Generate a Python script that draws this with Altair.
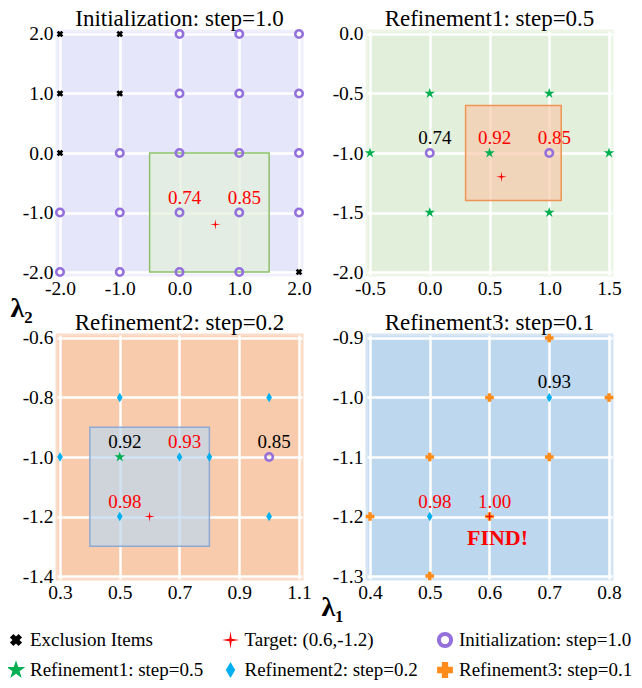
import altair as alt
import pandas as pd

FONT = "Liberation Serif"
RED = "#FF0000"

# ---------------- data ----------------
TARGET_X = [0.6]
TARGET_Y = [-1.2]

# Panel 1: Initialization step=1.0
P1_EXCL_X = [-2, -1, -2, -1, -2, 2]
P1_EXCL_Y = [2, 2, 1, 1, 0, -2]
P1_INIT_X = [0, 1, 2, 0, 1, 2, -1, 0, 1, 2, -2, -1, 0, 1, 2, -2, -1, 0, 1]
P1_INIT_Y = [2, 2, 2, 1, 1, 1, 0, 0, 0, 0, -1, -1, -1, -1, -1, -2, -2, -2, -2]
P1_LAB_X = [0.0, 1.0]
P1_LAB_Y = [-1.0, -1.0]
P1_LAB_TXT = ["0.74", "0.85"]
P1_LAB_SEL = ["selected", "selected"]
P1_BOX = [-0.5, 1.5, -2.0, 0.0]
P1_XT = [-2.0, -1.0, 0.0, 1.0, 2.0]
P1_YT = [-2.0, -1.0, 0.0, 1.0, 2.0]

# Panel 2: Refinement1 step=0.5
P2_INIT_X = [0.0, 1.0]
P2_INIT_Y = [-1.0, -1.0]
P2_R1_X = [0.0, 1.0, -0.5, 0.5, 1.5, 0.0, 1.0]
P2_R1_Y = [-0.5, -0.5, -1.0, -1.0, -1.0, -1.5, -1.5]
P2_LAB_X = [0.0, 0.5, 1.0]
P2_LAB_Y = [-1.0, -1.0, -1.0]
P2_LAB_TXT = ["0.74", "0.92", "0.85"]
P2_LAB_SEL = ["other", "selected", "selected"]
P2_BOX = [0.3, 1.1, -1.4, -0.6]
P2_XT = [-0.5, 0.0, 0.5, 1.0, 1.5]
P2_YT = [-2.0, -1.5, -1.0, -0.5, 0.0]

# Panel 3: Refinement2 step=0.2
P3_INIT_X = [1.0]
P3_INIT_Y = [-1.0]
P3_R1_X = [0.5]
P3_R1_Y = [-1.0]
P3_R2_X = [0.5, 1.0, 0.3, 0.7, 0.8, 0.5, 1.0]
P3_R2_Y = [-0.8, -0.8, -1.0, -1.0, -1.0, -1.2, -1.2]
P3_LAB_X = [0.5, 0.7, 0.5, 1.0]
P3_LAB_Y = [-1.0, -1.0, -1.2, -1.0]
P3_LAB_TXT = ["0.92", "0.93", "0.98", "0.85"]
P3_LAB_SEL = ["other", "selected", "selected", "other"]
P3_BOX = [0.4, 0.8, -1.3, -0.9]
P3_XT = [0.3, 0.5, 0.7, 0.9, 1.1]
P3_YT = [-1.4, -1.2, -1.0, -0.8, -0.6]

# Panel 4: Refinement3 step=0.1
P4_R2_X = [0.7, 0.5]
P4_R2_Y = [-1.0, -1.2]
P4_R3_X = [0.7, 0.6, 0.8, 0.5, 0.7, 0.4, 0.6, 0.5]
P4_R3_Y = [-0.9, -1.0, -1.0, -1.1, -1.1, -1.2, -1.2, -1.3]
P4_LAB_X = [0.7, 0.5, 0.6]
P4_LAB_Y = [-1.0, -1.2, -1.2]
P4_LAB_TXT = ["0.93", "0.98", "1.00"]
P4_LAB_SEL = ["other", "selected", "selected"]
P4_XT = [0.4, 0.5, 0.6, 0.7, 0.8]
P4_YT = [-1.3, -1.2, -1.1, -1.0, -0.9]

LEG_LABELS = ["Exclusion Items", "Target: (0.6,-1.2)", "Initialization: step=1.0",
              "Refinement1: step=0.5", "Refinement2: step=0.2", "Refinement3: step=0.1"]
LEG_KEYS = ["excl", "target", "init", "r1", "r2", "r3"]
LEG_COL = [0, 1, 2, 0, 1, 2]
LEG_ROW = [0, 0, 0, 1, 1, 1]

# ---------------- styles ----------------
STAR = ("M0,-1L0.225,-0.309L0.951,-0.309L0.363,0.118L0.588,0.809L0,0.382"
        "L-0.588,0.809L-0.363,0.118L-0.951,-0.309L-0.225,-0.309Z")
DIAMOND = "M0,-1L0.6,0L0,1L-0.6,0Z"
SPARK = "M0,-1L0.13,-0.13L1,0L0.13,0.13L0,1L-0.13,0.13L-1,0L-0.13,-0.13Z"

MARK = {
    "excl": dict(shape="cross", angle=45, filled=True, color="black", size=45, lsize=150),
    "target": dict(shape=SPARK, filled=True, color=RED, size=110, lsize=300),
    "init": dict(shape="circle", filled=False, color="#9370DB", size=55, lsize=150, sw=2.6, lsw=4),
    "r1": dict(shape=STAR, filled=True, color="#00B050", size=120, lsize=380),
    "r2": dict(shape=DIAMOND, filled=True, color="#00B0F0", size=90, lsize=250),
    "r3": dict(shape="cross", filled=True, color="#FF8C1A", size=75, lsize=250),
}

W, H = 245, 244
LABEL_EXPR = "replace(format(datum.value, '.1f'), '\u2212', '-')"


def pad(lo, hi):
    r = (hi - lo) * 3.0 / 239.0
    return [lo - r, hi + r]


def point_layer(key, xs, ys, X, Y, legend=False):
    m = MARK[key]
    kw = dict(shape=m["shape"], filled=m["filled"], opacity=1,
              size=m["lsize"] if legend else m["size"])
    if m["filled"]:
        kw["fill"] = m["color"]
        kw["strokeWidth"] = 0
    else:
        kw["stroke"] = m["color"]
        kw["strokeWidth"] = m["lsw"] if legend else m["sw"]
    if "angle" in m:
        kw["angle"] = m["angle"]
    df = pd.DataFrame({"x": xs, "y": ys})
    return alt.Chart(df).mark_point(**kw).encode(x=X, y=Y)


def label_layer(xs, ys, txt, sel, X, Y):
    df = pd.DataFrame({"x": xs, "y": ys, "t": txt, "s": sel})
    return alt.Chart(df).mark_text(font=FONT, fontSize=19, dx=5, dy=-15,
                                   baseline="middle").encode(
        x=X, y=Y, text="t:N",
        color=alt.Color("s:N", scale=alt.Scale(domain=["selected", "other"],
                                               range=[RED, "black"]), legend=None))


def box_layer(box, X, Y, fill, stroke):
    df = pd.DataFrame({"x": [box[0]], "x2": [box[1]], "y": [box[2]], "y2": [box[3]]})
    return alt.Chart(df).mark_rect(fill=fill, fillOpacity=0.7, stroke=stroke,
                                   strokeWidth=1.5).encode(
        x=X, x2="x2:Q", y=Y, y2="y2:Q")


def make_axis(values, title=None, **tkw):
    kw = dict(values=values, labelExpr=LABEL_EXPR, grid=True, gridColor="white",
              gridWidth=2.5, gridOpacity=1, ticks=False, tickSize=0, domain=False,
              labelFont=FONT, labelFontSize=19.5, labelColor="black", labelPadding=4)
    if title:
        kw.update(title=title, titleFont=FONT, titleFontSize=28, titleFontWeight="bold",
                  titleColor="black", titleAngle=0, titleAlign="center",
                  titleBaseline="middle", **tkw)
    else:
        kw["title"] = ""
    return alt.Axis(**kw)


def panel(title, xt, yt, bg, border, layers_fn, xtitle=None, ytitle=None):
    X = alt.X("x:Q", scale=alt.Scale(domain=pad(min(xt), max(xt)), nice=False, zero=False),
              axis=make_axis(xt, xtitle[0] if xtitle else None, **(xtitle[1] if xtitle else {})))
    Y = alt.Y("y:Q", scale=alt.Scale(domain=pad(min(yt), max(yt)), nice=False, zero=False),
              axis=make_axis(yt, ytitle[0] if ytitle else None, **(ytitle[1] if ytitle else {})))
    layers = layers_fn(X, Y)
    return alt.layer(*layers).properties(
        width=W, height=H,
        title=alt.TitleParams(text=title, font=FONT, fontSize=23, fontWeight="normal",
                              color="black", anchor="middle", baseline="alphabetic",
                              offset=-25),
        view=alt.ViewBackground(fill=bg, stroke=border, strokeWidth=3),
    )


def p1_layers(X, Y):
    return [
        box_layer(P1_BOX, X, Y, "#E2EFDA", "#8CC168"),
        point_layer("excl", P1_EXCL_X, P1_EXCL_Y, X, Y),
        point_layer("init", P1_INIT_X, P1_INIT_Y, X, Y),
        point_layer("target", TARGET_X, TARGET_Y, X, Y),
        label_layer(P1_LAB_X, P1_LAB_Y, P1_LAB_TXT, P1_LAB_SEL, X, Y),
    ]


def p2_layers(X, Y):
    return [
        box_layer(P2_BOX, X, Y, "#F8CBAD", "#EF9454"),
        point_layer("init", P2_INIT_X, P2_INIT_Y, X, Y),
        point_layer("r1", P2_R1_X, P2_R1_Y, X, Y),
        point_layer("target", TARGET_X, TARGET_Y, X, Y),
        label_layer(P2_LAB_X, P2_LAB_Y, P2_LAB_TXT, P2_LAB_SEL, X, Y),
    ]


def p3_layers(X, Y):
    return [
        box_layer(P3_BOX, X, Y, "#BDD7EE", "#8FAAD2"),
        point_layer("init", P3_INIT_X, P3_INIT_Y, X, Y),
        point_layer("r1", P3_R1_X, P3_R1_Y, X, Y),
        point_layer("r2", P3_R2_X, P3_R2_Y, X, Y),
        point_layer("target", TARGET_X, TARGET_Y, X, Y),
        label_layer(P3_LAB_X, P3_LAB_Y, P3_LAB_TXT, P3_LAB_SEL, X, Y),
    ]


def p4_layers(X, Y):
    find = alt.Chart(pd.DataFrame({"x": TARGET_X, "y": TARGET_Y, "t": ["FIND!"]})).mark_text(
        font=FONT, fontSize=22, fontWeight="bold", color=RED, dx=8, dy=21,
        baseline="middle").encode(x=X, y=Y, text="t:N")
    return [
        point_layer("r2", P4_R2_X, P4_R2_Y, X, Y),
        point_layer("r3", P4_R3_X, P4_R3_Y, X, Y),
        point_layer("target", TARGET_X, TARGET_Y, X, Y),
        label_layer(P4_LAB_X, P4_LAB_Y, P4_LAB_TXT, P4_LAB_SEL, X, Y),
        find,
    ]


p1 = panel("Initialization: step=1.0", P1_XT, P1_YT, "#E6E6FA", "#F0F0FC", p1_layers,
           ytitle=("\u03bb\u2082", dict(titleX=-36, titleY=H + 33)))
p2 = panel("Refinement1: step=0.5", P2_XT, P2_YT, "#E2EFDA", "#ECF5E6", p2_layers)
p3 = panel("Refinement2: step=0.2", P3_XT, P3_YT, "#F8CBAD", "#FBDCC8", p3_layers)
p4 = panel("Refinement3: step=0.1", P4_XT, P4_YT, "#BDD7EE", "#D5E5F4", p4_layers,
           xtitle=("\u03bb\u2081", dict(titleX=-35, titleY=28)))

# ---------------- legend ----------------
LX = alt.X("x:Q", scale=alt.Scale(domain=[0, 2], range=[-41, 388]), axis=None)
LY = alt.Y("y:Q", scale=alt.Scale(domain=[0, 1], range=[1, 31]), axis=None)
leg_layers = []
for k, c, r in zip(LEG_KEYS, LEG_COL, LEG_ROW):
    leg_layers.append(point_layer(k, [c], [r], LX, LY, legend=True))
leg_text = alt.Chart(pd.DataFrame({"x": LEG_COL, "y": LEG_ROW, "t": LEG_LABELS})).mark_text(
    font=FONT, fontSize=19, align="left", baseline="middle", dx=14, color="black").encode(
    x=LX, y=LY, text="t:N")
legend = alt.layer(*leg_layers, leg_text).properties(
    width=W, height=30,
    view=alt.ViewBackground(stroke="transparent", fill="transparent"))

chart = alt.concat(p1, p2, p3, p4, legend, columns=2, bounds="flush",
                   spacing={"row": 60, "column": 65}).properties(
    padding={"left": -2, "top": -2, "right": 0, "bottom": 0}
).configure(background="white")

chart.save("out.html", embed_options={"renderer": "svg", "actions": False})
